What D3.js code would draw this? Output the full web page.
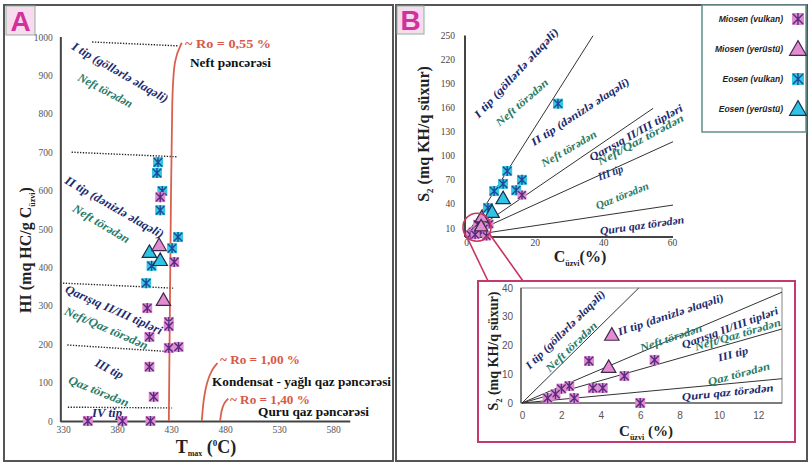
<!DOCTYPE html>
<html>
<head>
<meta charset="utf-8">
<script src="https://cdn.jsdelivr.net/npm/d3@7"></script>
<style>
  body { margin: 0; background: #fff; }
  svg { display: block; }
</style>
</head>
<body>
<svg id="chart" width="809" height="464" font-family="Liberation Serif, Times New Roman, serif"></svg>
<script>
// ---- Panel A : Tmax vs HI ----
const tmaxTicks = [330, 380, 430, 480, 530, 580];
const hiTicks = [0, 100, 200, 300, 400, 500, 600, 700, 800, 900, 1000];

const miosenVulkanA = [[420,583],[433,414],[408,294],[428,258],[428,247],[410,219],[428,190],[437,193],[410,141],[414,63],[353,0],[385,0],[411,0]];
const miosenYerustuA = [[419,458],[423,315]];
const eosenVulkanA = [[418,674],[417,646],[422,599],[420,549],[436.5,479],[431,450],[412,404],[407,359]];
const eosenYerustuA = [[410,440],[420,419]];

// kerogen type dividers (dotted) and maturity (Ro) curves
const dividersA = [[[357,987],[436.5,977]], [[338,700],[435.5,688]], [[330,359],[432,346]], [[334,198],[432,180]], [[334.5,36],[431,34]]];
const roCurvesA = [
  [[428,0],[429,300],[430,600],[431,850],[433,945],[440,985]],
  [[458.5,0],[460,55],[463,100],[468,135],[473,151]],
  [[475.5,0],[476.5,25],[479,47],[483,58]]
];

// ---- Panel B : TOC vs S2 ----
const tocTicksB = [0, 20, 40, 60];
const s2TicksB = [10, 40, 70, 100, 130, 160, 190, 220, 250];
const tocTicksInset = [0, 2, 4, 6, 8, 10, 12];
const s2TicksInset = [0, 10, 20, 30, 40];

const miosenVulkanB = [[16.3,51],[3.4,14.6],[6.73,15],[5.2,9.4],[3.6,5.2],[4.1,5.2],[2.4,5.9],[2.0,5],[1.7,3.1],[1.3,1.7],[2.65,1.7],[6.0,0]];
const miosenYerustuB = [[4.56,23.7],[4.4,12.5]];
const eosenVulkanB = [[26.8,165],[12,81],[10.8,65],[8.2,56],[16.3,70],[14.6,57],[6.4,35]];
const eosenYerustuB = [[10.8,47],[7.6,30]];

// HI boundary slopes (S2 / TOC) and where each line stops in the main plot
const boundarySlopes = [6.75, 2.92, 1.95, 0.64];
const boundaryEndB = [37, 54.5, 60.3, 60.3];

const legendItems = [
  { name: "Miosen (vulkan)", kind: "mv" },
  { name: "Miosen (yerüstü)", kind: "my" },
  { name: "Eosen (vulkan)", kind: "ev" },
  { name: "Eosen (yerüstü)", kind: "ey" }
];

const NAVY = "#1c2b6e", TEAL = "#2b7b67", RED = "#d65a4a";

// rotated zone labels: [text, x, y, angle, length, colour]
const zoneLabelsA = [
  ["I tip (göllərlə əlaqəli)", 339.3, 979, 30, 109, NAVY],
  ["Neft törədən", 344.8, 898, 28, 60, TEAL],
  ["II tip (dənizlə əlaqəli)", 332.8, 630, 30, 112, NAVY],
  ["Neft törədən", 340.2, 557, 31, 64, TEAL],
  ["Qarışıq II/III tipləri", 332.8, 346, 24, 105, NAVY],
  ["Neft/Qaz törədən", 331.9, 289, 23.5, 90, TEAL],
  ["III tip", 360.6, 154, 27, 30, NAVY],
  ["Qaz törədən", 335.6, 109, 22, 64, TEAL],
  ["IV tip", 356.9, 21, 0, 30, NAVY]
];
const zoneLabelsB = [
  ["I tip (göllərlə əlaqəli)", 2.9, 149.6, -47, 118, NAVY],
  ["Neft törədən", 9.0, 139.7, -41, 66, TEAL],
  ["II tip (dənizlə əlaqəli)", 19.2, 116, -33, 115, NAVY],
  ["Neft törədən", 22.1, 89.8, -30, 62, TEAL],
  ["Qarışıq II/III tipləri", 36.1, 97.3, -29, 105, NAVY],
  ["Neft/Qaz törədən", 38.5, 92.3, -28, 96, TEAL],
  ["III tip", 38.5, 73.6, -20, 26, NAVY],
  ["Qaz törədən", 37.9, 37.4, -22, 56, TEAL],
  ["Quru qaz törədən", 39.0, 6.2, -8, 85, NAVY]
];
const zoneLabelsInset = [
  ["I tip (göllərlə əlaqəli)", 0.25, 12.5, -44.5, 107, NAVY],
  ["Neft törədən", 1.27, 11.5, -44, 67, TEAL],
  ["II tip (dənizlə əlaqəli)", 4.87, 24.7, -18.4, 111, NAVY],
  ["Neft törədən", 6.0, 19.1, -18.7, 65, TEAL],
  ["Qarışıq II/III tipləri", 8.12, 20.2, -20, 102, NAVY],
  ["Neft/Qaz törədən", 8.78, 19.5, -16.4, 89, TEAL],
  ["III tip", 9.95, 15.7, -15, 31, NAVY],
  ["Qaz törədən", 9.44, 7.3, -15, 64, TEAL],
  ["Quru qaz törədən", 8.12, 2.1, -6, 92, NAVY]
];
// window labels on panel A: [text, x, y, length, colour]
const windowLabelsA = [
  ["~ Ro = 0,55 %", 443, 982, 86, RED],
  ["Neft pəncərəsi", 447.6, 932, 81, "#111"],
  ["~ Ro = 1,00 %", 475.4, 159, 80, RED],
  ["Kondensat - yağlı qaz pəncərəsi", 468, 101.6, 179, "#111"],
  ["~ Ro = 1,40 %", 484.6, 56, 80, RED],
  ["Quru qaz pəncərəsi", 510.6, 24, 111, "#111"]
];

const svg = d3.select("#chart");
const SANS = "Liberation Sans, Arial, sans-serif";
const SERIF = "Liberation Serif, Times New Roman, serif";

// ---------- markers ----------
const STYLE = {
  mv: { fill: "#df8ccf", stroke: "#5a2a80", shape: "sq" },
  my: { fill: "#e48ccf", stroke: "#3e2a4e", shape: "tri" },
  ev: { fill: "#33c9e2", stroke: "#1c4a98", shape: "sq" },
  ey: { fill: "#2fc4e4", stroke: "#1a2f4e", shape: "tri" }
};
function drawMarker(g, kind, x, y, s) {
  const st = STYLE[kind];
  if (st.shape === "sq") {
    g.append("rect").attr("x", x - s / 2).attr("y", y - s / 2)
      .attr("width", s).attr("height", s).attr("fill", st.fill);
    const r = s * 0.42;
    g.append("path")
      .attr("d", `M${x - r},${y - r}L${x + r},${y + r}M${x - r},${y + r}L${x + r},${y - r}M${x},${y - s * 0.5}L${x},${y + s * 0.5}`)
      .attr("stroke", st.stroke).attr("stroke-width", 1.4).attr("fill", "none");
  } else {
    const h = s * 1.0, w = s * 0.6;
    g.append("path")
      .attr("d", `M${x},${y - h * 0.6}L${x + w},${y + h * 0.45}L${x - w},${y + h * 0.45}Z`)
      .attr("fill", st.fill).attr("stroke", st.stroke).attr("stroke-width", 1.2);
  }
}
function drawSeries(g, data, kind, xs, ys, s) {
  data.forEach(d => drawMarker(g, kind, xs(d[0]), ys(d[1]), s));
}
function drawZoneLabels(g, labels, xs, ys, size) {
  labels.forEach(l => {
    const x = xs(l[1]), y = ys(l[2]);
    g.append("text")
      .attr("transform", `translate(${x},${y}) rotate(${l[3]})`)
      .attr("dy", "0.35em")
      .attr("textLength", l[4]).attr("lengthAdjust", "spacingAndGlyphs")
      .attr("font-size", size).attr("font-weight", "bold").attr("font-style", "italic")
      .attr("fill", l[5]).text(l[0]);
  });
}
function styleTicks(sel, family, size, color) {
  sel.selectAll("text").attr("font-family", family).attr("font-size", size).attr("fill", color);
}

// ---------- frames and panel letters ----------
svg.append("rect").attr("x", 4).attr("y", 5).attr("width", 389).attr("height", 456)
  .attr("fill", "none").attr("stroke", "#555").attr("stroke-width", 2);
svg.append("rect").attr("x", 396).attr("y", 5).attr("width", 411).attr("height", 456)
  .attr("fill", "none").attr("stroke", "#555").attr("stroke-width", 2);

[["A", 6, 6, 29, 29], ["B", 397, 6, 27, 28]].forEach(p => {
  svg.append("rect").attr("x", p[1]).attr("y", p[2]).attr("width", p[3]).attr("height", p[4])
    .attr("fill", "#f7dcef").attr("stroke", "#8db39c").attr("stroke-width", 1);
  svg.append("text").attr("x", p[1] + p[3] / 2).attr("y", p[2] + p[4] - 4)
    .attr("text-anchor", "middle").attr("font-family", SANS)
    .attr("font-weight", "bold").attr("font-size", 28).attr("fill", "#d2309a").text(p[0]);
});

// ================= PANEL A =================
const xA = d3.scaleLinear().domain([330, 580]).range([63, 333]);
const yA = d3.scaleLinear().domain([0, 1000]).range([421, 37]);
const gA = svg.append("g");

gA.append("g").attr("transform", `translate(${xA(328)},0)`)
  .call(d3.axisLeft(yA).tickValues(hiTicks).tickFormat(d3.format("d")).tickSize(0).tickPadding(8))
  .call(g => g.select(".domain").remove())
  .call(g => styleTicks(g, SERIF, 9.5, "#555"));
gA.append("g").attr("transform", `translate(0,${yA(0)})`)
  .call(d3.axisBottom(xA).tickValues(tmaxTicks).tickFormat(d3.format("d")).tickSize(0).tickPadding(5))
  .call(g => g.select(".domain").remove())
  .call(g => styleTicks(g, SERIF, 9.5, "#555"));

gA.append("line").attr("x1", xA(328)).attr("x2", xA(328)).attr("y1", yA(0) + 1).attr("y2", yA(1000))
  .attr("stroke", "#444").attr("stroke-width", 2);
gA.append("line").attr("x1", xA(328)).attr("x2", xA(596)).attr("y1", yA(0) + 0.5).attr("y2", yA(0) + 0.5)
  .attr("stroke", "#444").attr("stroke-width", 2);

// dividers
dividersA.forEach(d => {
  gA.append("line").attr("x1", xA(d[0][0])).attr("y1", yA(d[0][1]))
    .attr("x2", xA(d[1][0])).attr("y2", yA(d[1][1]))
    .attr("stroke", "#222").attr("stroke-width", 1.4).attr("stroke-dasharray", "1.3,1.5");
});
const roLine = d3.line().x(d => xA(d[0])).y(d => yA(d[1])).curve(d3.curveBasis);
roCurvesA.forEach(c => {
  gA.append("path").attr("d", roLine(c)).attr("fill", "none").attr("stroke", "#d9604e").attr("stroke-width", 1.8);
});

drawZoneLabels(gA, zoneLabelsA, xA, yA, 12);

windowLabelsA.forEach(l => {
  gA.append("text").attr("x", xA(l[1])).attr("y", yA(l[2])).attr("dy", "0.35em")
    .attr("textLength", l[3]).attr("lengthAdjust", "spacingAndGlyphs")
    .attr("font-size", 12.5).attr("font-weight", "bold").attr("fill", l[4]).text(l[0]);
});

drawSeries(gA, eosenVulkanA, "ev", xA, yA, 10);
drawSeries(gA, miosenVulkanA, "mv", xA, yA, 10);
drawSeries(gA, eosenYerustuA, "ey", xA, yA, 12);
drawSeries(gA, miosenYerustuA, "my", xA, yA, 12);

// axis titles A
const yTitleA = gA.append("text").attr("transform", "translate(31,250) rotate(-90)")
  .attr("text-anchor", "middle").attr("font-weight", "bold").attr("font-size", 16).attr("fill", "#222");
yTitleA.append("tspan").text("HI (mq HC/g C");
yTitleA.append("tspan").attr("font-size", 8).attr("dy", 4).text("üzvi");
yTitleA.append("tspan").attr("dy", -4).text(")");

const xTitleA = gA.append("text").attr("x", 206).attr("y", 453)
  .attr("text-anchor", "middle").attr("font-weight", "bold").attr("font-size", 18).attr("fill", "#222");
xTitleA.append("tspan").text("T");
xTitleA.append("tspan").attr("font-size", 8).attr("dy", 3).text("max");
xTitleA.append("tspan").attr("dy", -3).text(" (");
xTitleA.append("tspan").attr("font-size", 9).attr("dy", -7).text("0");
xTitleA.append("tspan").attr("dy", 7).text("C)");

// ================= PANEL B (main) =================
const xB = d3.scaleLinear().domain([0, 60]).range([466, 672]);
const yB = d3.scaleLinear().domain([0, 250]).range([236, 35.5]);
const gB = svg.append("g");

gB.append("g").attr("transform", `translate(${xB(0) - 1},0)`)
  .call(d3.axisLeft(yB).tickValues(s2TicksB).tickSize(0).tickPadding(10))
  .call(g => g.select(".domain").remove())
  .call(g => styleTicks(g, SERIF, 9.5, "#444"));
gB.append("g").attr("transform", `translate(0,${yB(0)})`)
  .call(d3.axisBottom(xB).tickValues(tocTicksB).tickSize(0).tickPadding(3))
  .call(g => g.select(".domain").remove())
  .call(g => styleTicks(g, SERIF, 9.5, "#444"));
gB.append("line").attr("x1", xB(0) - 1).attr("x2", xB(0) - 1).attr("y1", yB(0) + 1).attr("y2", yB(250))
  .attr("stroke", "#444").attr("stroke-width", 2);
gB.append("line").attr("x1", xB(0) - 1).attr("x2", xB(60.3)).attr("y1", yB(0) + 1).attr("y2", yB(0) + 1)
  .attr("stroke", "#444").attr("stroke-width", 2);

boundarySlopes.forEach((k, i) => {
  const xe = boundaryEndB[i];
  gB.append("line").attr("x1", xB(0)).attr("y1", yB(0)).attr("x2", xB(xe)).attr("y2", yB(k * xe))
    .attr("stroke", "#333").attr("stroke-width", 1);
});

drawZoneLabels(gB, zoneLabelsB, xB, yB, 11);

drawSeries(gB, eosenVulkanB, "ev", xB, yB, 10);
drawSeries(gB, miosenVulkanB, "mv", xB, yB, 9);
drawSeries(gB, eosenYerustuB, "ey", xB, yB, 12);
drawSeries(gB, miosenYerustuB, "my", xB, yB, 11);

const yTitleB = gB.append("text").attr("transform", "translate(429,134) rotate(-90)")
  .attr("text-anchor", "middle").attr("font-weight", "bold").attr("font-size", 16).attr("fill", "#222");
yTitleB.append("tspan").text("S");
yTitleB.append("tspan").attr("font-size", 9).attr("dy", 4).text("2");
yTitleB.append("tspan").attr("dy", -4).text(" (mq KH/q süxur)");

const xTitleB = gB.append("text").attr("x", 580).attr("y", 262)
  .attr("text-anchor", "middle").attr("font-weight", "bold").attr("font-size", 16).attr("fill", "#222");
xTitleB.append("tspan").text("C");
xTitleB.append("tspan").attr("font-size", 8).attr("dy", 4).text("üzvi");
xTitleB.append("tspan").attr("dy", -4).text("(%)");

// zoom circle and connectors
const zc = { x: xB(3.2), y: yB(11), r: 14 };
gB.append("circle").attr("cx", zc.x).attr("cy", zc.y).attr("r", zc.r)
  .attr("fill", "none").attr("stroke", "#c8365e").attr("stroke-width", 1.6);
gB.append("line").attr("x1", zc.x - 10).attr("y1", zc.y + 10).attr("x2", 488).attr("y2", 281)
  .attr("stroke", "#c8365e").attr("stroke-width", 1.6);
gB.append("line").attr("x1", zc.x + 12).attr("y1", zc.y + 6).attr("x2", 523).attr("y2", 281)
  .attr("stroke", "#c8365e").attr("stroke-width", 1.6);

// ================= INSET =================
const xI = d3.scaleLinear().domain([0, 13.2]).range([522, 782]);
const yI = d3.scaleLinear().domain([0, 40]).range([403, 288]);
const gI = svg.append("g");
gI.append("rect").attr("x", 478).attr("y", 281).attr("width", 317).attr("height", 161)
  .attr("fill", "#fff").attr("stroke", "#c23a6e").attr("stroke-width", 2);
gI.append("rect").attr("x", xI(0) - 1).attr("y", yI(40)).attr("width", xI(13.2) - xI(0) + 1).attr("height", yI(0) - yI(40))
  .attr("fill", "none").attr("stroke", "#999").attr("stroke-width", 1.2);
gI.append("line").attr("x1", xI(0) - 1).attr("x2", xI(0) - 1).attr("y1", yI(0)).attr("y2", yI(40))
  .attr("stroke", "#666").attr("stroke-width", 1.6);
gI.append("line").attr("x1", xI(0) - 1).attr("x2", xI(13.2)).attr("y1", yI(0)).attr("y2", yI(0))
  .attr("stroke", "#666").attr("stroke-width", 1.6);

gI.append("g").attr("transform", `translate(${xI(0) - 1},0)`)
  .call(d3.axisLeft(yI).tickValues(s2TicksInset).tickSize(0).tickPadding(8))
  .call(g => g.select(".domain").remove())
  .call(g => styleTicks(g, SANS, 10, "#555"));
gI.append("g").attr("transform", `translate(0,${yI(0)})`)
  .call(d3.axisBottom(xI).tickValues(tocTicksInset).tickSize(0).tickPadding(9))
  .call(g => g.select(".domain").remove())
  .call(g => styleTicks(g, SANS, 10, "#555"));

boundarySlopes.forEach(k => {
  const xe = Math.min(13.2, 40 / k);
  gI.append("line").attr("x1", xI(0)).attr("y1", yI(0)).attr("x2", xI(xe)).attr("y2", yI(k * xe))
    .attr("stroke", "#333").attr("stroke-width", 1);
});

drawZoneLabels(gI, zoneLabelsInset, xI, yI, 11);

drawSeries(gI, miosenVulkanB, "mv", xI, yI, 10);
drawSeries(gI, miosenYerustuB, "my", xI, yI, 12);

const yTitleI = gI.append("text").attr("transform", "translate(498,351) rotate(-90)")
  .attr("text-anchor", "middle").attr("font-weight", "bold").attr("font-size", 14).attr("fill", "#222");
yTitleI.append("tspan").text("S");
yTitleI.append("tspan").attr("font-size", 8).attr("dy", 4).text("2");
yTitleI.append("tspan").attr("dy", -4).text(" (mq KH/q süxur)");

const xTitleI = gI.append("text").attr("x", 646).attr("y", 436)
  .attr("text-anchor", "middle").attr("font-weight", "bold").attr("font-size", 15).attr("fill", "#222");
xTitleI.append("tspan").text("C");
xTitleI.append("tspan").attr("font-size", 8).attr("dy", 4).text("üzvi");
xTitleI.append("tspan").attr("dy", -4).text(" (%)");

// ================= LEGEND =================
const gL = svg.append("g");
gL.append("rect").attr("x", 702).attr("y", 5).attr("width", 104).attr("height", 127)
  .attr("fill", "#fff").attr("stroke", "#5f8f8f").attr("stroke-width", 1.5);
const legY = d3.scalePoint().domain(legendItems.map(d => d.name)).range([19, 109]);
legendItems.forEach(it => {
  gL.append("text").attr("x", 783).attr("y", legY(it.name)).attr("dy", "0.35em")
    .attr("text-anchor", "end").attr("font-family", SANS)
    .attr("font-style", "italic").attr("font-weight", "bold").attr("font-size", 8.5).attr("fill", "#222")
    .text(it.name);
  drawMarker(gL, it.kind, 798, legY(it.name), it.kind === "mv" || it.kind === "ev" ? 12 : 14);
});
</script>
</body>
</html>
